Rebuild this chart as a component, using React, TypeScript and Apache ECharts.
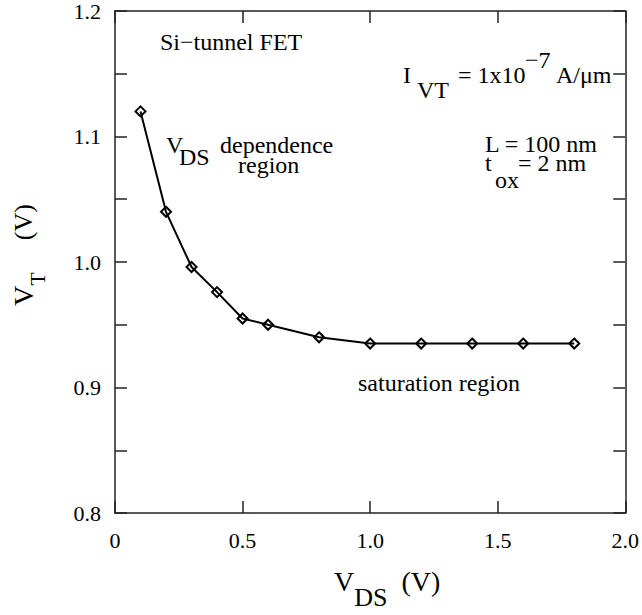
import React, { useEffect, useRef } from "react";
import * as echarts from "echarts";

// Data
const vdsValues = [0.1, 0.2, 0.3, 0.4, 0.5, 0.6, 0.8, 1.0, 1.2, 1.4, 1.6, 1.8];
const vtValues = [1.12, 1.04, 0.996, 0.976, 0.955, 0.95, 0.94, 0.935, 0.935, 0.935, 0.935, 0.935];

const xMin = 0;
const xMax = 2.0;
const xStep = 0.5;
const yMin = 0.8;
const yMax = 1.2;
const yStep = 0.05;

const FONT = "Liberation Serif, Times New Roman, serif";
const ANN = 24;

type Ann = { text: string; x: number; base: number; size?: number };
const annotations: Ann[] = [
  { text: "Si\u2212tunnel FET", x: 160, base: 50 },
  { text: "V", x: 166, base: 153 },
  { text: "DS", x: 179, base: 165 },
  { text: "dependence", x: 220, base: 153 },
  { text: "region", x: 238, base: 173 },
  { text: "I", x: 403, base: 83 },
  { text: "VT", x: 417, base: 98 },
  { text: "= 1x10", x: 458, base: 83 },
  { text: "\u22127", x: 525, base: 68 },
  { text: "A/\u03bcm", x: 556, base: 83 },
  { text: "L = 100 nm", x: 485, base: 152 },
  { text: "t", x: 485, base: 171 },
  { text: "ox", x: 495, base: 188 },
  { text: "= 2 nm", x: 518, base: 171 },
  { text: "saturation region", x: 358, base: 391 },
];

export default function App() {
  const ref = useRef<HTMLDivElement>(null);
  useEffect(() => {
    if (!ref.current) return;
    const chart = echarts.init(ref.current, undefined, { renderer: "svg" });
    const lineStyle = { color: "#222", width: 1.5 };
    const tick = { show: true, inside: true, length: 12, lineStyle };
    const labelStyle = { fontFamily: FONT, fontSize: 22, color: "#000" };
    const xFmt = (v: number) => (Math.abs(v) < 1e-9 ? "0" : v.toFixed(1));
    const yFmt = (v: number) => {
      const k = Math.round(v * 100);
      return k % 10 === 0 ? v.toFixed(1) : "";
    };
    const option: any = {
      animation: false,
      backgroundColor: "#fff",
      textStyle: { fontFamily: FONT },
      grid: { left: 115, top: 7, width: 512, height: 513, containLabel: false },
      xAxis: [
        {
          type: "value",
          min: xMin,
          max: xMax,
          interval: xStep,
          position: "bottom",
          axisLine: { show: true, onZero: false, lineStyle },
          axisTick: tick,
          splitLine: { show: false },
          axisLabel: { ...labelStyle, margin: 16, formatter: xFmt },
          name: "{v|V}{s|DS}{p|(V)}",
          nameLocation: "middle",
          nameGap: 54,
          nameTextStyle: {
            fontFamily: FONT,
            color: "#000",
            rich: {
              v: { fontFamily: FONT, fontSize: 28, color: "#000", padding: [0, 0, 16, 34] },
              s: { fontFamily: FONT, fontSize: 26, color: "#000", padding: [16, 0, 0, 0] },
              p: { fontFamily: FONT, fontSize: 28, color: "#000", padding: [0, 0, 16, 14] },
            },
          },
        },
        {
          type: "value",
          min: xMin,
          max: xMax,
          interval: xStep,
          position: "top",
          axisLine: { show: true, onZero: false, lineStyle },
          axisTick: tick,
          splitLine: { show: false },
          axisLabel: { show: false },
        },
      ],
      yAxis: [
        {
          type: "value",
          min: yMin,
          max: yMax,
          interval: yStep,
          position: "left",
          axisLine: { show: true, onZero: false, lineStyle },
          axisTick: tick,
          splitLine: { show: false },
          axisLabel: { ...labelStyle, margin: 14, formatter: yFmt },
          name: "{v|V}{s|T}{p|(V)}",
          nameLocation: "middle",
          nameRotate: 90,
          nameGap: 64,
          nameTextStyle: {
            fontFamily: FONT,
            color: "#000",
            rich: {
              v: { fontFamily: FONT, fontSize: 28, color: "#000", padding: [0, 0, 14, 14] },
              s: { fontFamily: FONT, fontSize: 22, color: "#000", padding: [14, 0, 0, 0] },
              p: { fontFamily: FONT, fontSize: 26, color: "#000", padding: [0, 0, 14, 32] },
            },
          },
        },
        {
          type: "value",
          min: yMin,
          max: yMax,
          interval: yStep,
          position: "right",
          axisLine: { show: true, onZero: false, lineStyle },
          axisTick: tick,
          splitLine: { show: false },
          axisLabel: { show: false },
        },
      ],
      series: [
        {
          type: "line",
          xAxisIndex: 0,
          yAxisIndex: 0,
          data: vdsValues.map((x, i) => [x, vtValues[i]]),
          symbol: "diamond",
          symbolSize: 10,
          showAllSymbol: true,
          lineStyle: { color: "#000", width: 2 },
          itemStyle: { color: "rgba(0,0,0,0)", borderColor: "#000", borderWidth: 2 },
          emphasis: { disabled: true },
          z: 3,
        },
      ],
      graphic: annotations.map((a) => {
        const fs = a.size ?? ANN;
        return {
          type: "text",
          x: a.x,
          y: a.base - 0.3375 * fs,
          silent: true,
          style: {
            text: a.text,
            fontFamily: FONT,
            fontSize: fs,
            lineHeight: 16,
            fill: "#000",
            align: "left",
            verticalAlign: "middle",
            textAlign: "left",
            textVerticalAlign: "middle",
          },
        };
      }),
    };
    chart.setOption(option);
    return () => chart.dispose();
  }, []);
  return (
    <div
      ref={ref}
      style={{ position: "fixed", left: 0, top: 0, width: 642, height: 615, background: "#fff" }}
    />
  );
}
